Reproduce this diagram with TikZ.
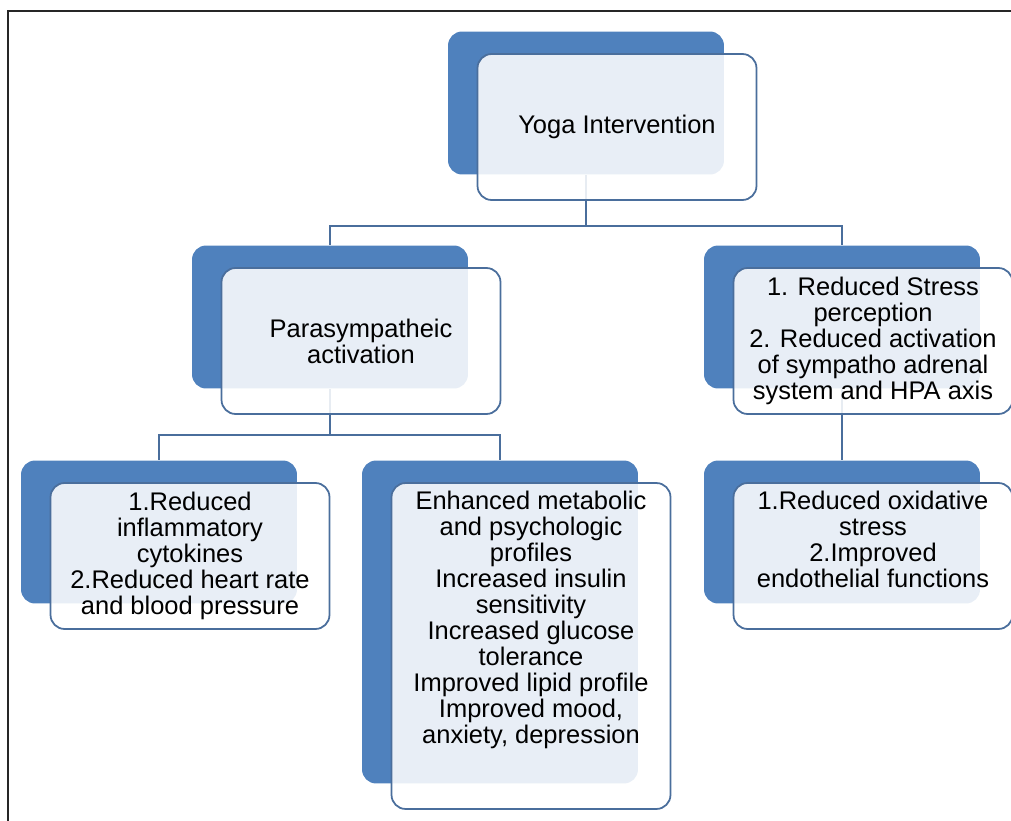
\documentclass[tikz,border=0pt]{standalone}
\usepackage{fontspec}
\setmainfont{Liberation Sans}
\usetikzlibrary{positioning}
\definecolor{backblue}{HTML}{4F81BD}
\definecolor{linkblue}{HTML}{4A6E9C}

\tikzset{
  back/.style = {fill=backblue, rounded corners=8pt, minimum width=5.52cm, minimum height=2.86cm, inner sep=0pt},
  front/.style = {draw=linkblue, line width=1pt, fill=white, fill opacity=0.87, text opacity=1,
                  rounded corners=8pt, minimum width=5.58cm, minimum height=2.92cm, inner sep=2pt,
                  align=center, font=\fontsize{14.5}{14.8}\selectfont},
  conn/.style = {draw=linkblue, line width=1.3pt}
}

\begin{document}
\begin{tikzpicture}[x=0.02cm, y=-0.02cm]
  \useasboundingbox (0,0) rectangle (1011,821);
  \draw[line width=1.2pt, black!85] (8,821) -- (8,11) -- (1011,11);

  % blue back boxes
  \node[back] (yogab) at (586,103) {};
  \node[back] (parab) at (330,317) {};
  \node[back] (stressb) at (842,317) {};
  \node[back] (cytob) at (159,532) {};
  \node[back, minimum height=6.46cm] (metab) at (500,622) {};
  \node[back] (oxib) at (842,532) {};

  % connectors
  \draw[conn] (yogab.south) -- ++(0,51) -| (parab.north);
  \draw[conn] (yogab.south) -- ++(0,51) -| (stressb.north);
  \draw[conn] (parab.south) -- ++(0,46) -| (cytob.north);
  \draw[conn] (parab.south) -- ++(0,46) -| (metab.north);
  \draw[conn] (stressb.south) -- (oxib.north);

  % light front boxes
  \node[front] (yoga) at ([shift={(31,24)}]yogab) {Yoga Intervention};
  \node[front] (para) at ([shift={(31,24)}]parab) {Parasympatheic\\activation};
  \node[front] (stress) at ([shift={(31,24)}]stressb) {1. Reduced Stress\\perception\\2. Reduced activation\\of sympatho adrenal\\system and HPA axis};
  \node[front] (cyto) at ([shift={(31,24)}]cytob) {1.Reduced\\inflammatory\\cytokines\\2.Reduced heart rate\\and blood pressure};
  \node[front, minimum height=6.52cm, text depth=1.15cm] (meta) at ([shift={(31,24)}]metab) {Enhanced metabolic\\and psychologic\\profiles\\Increased insulin\\sensitivity\\Increased glucose\\tolerance\\Improved lipid profile\\Improved mood,\\anxiety, depression};
  \node[front, text depth=0.65cm] (oxi) at ([shift={(31,24)}]oxib) {1.Reduced oxidative\\stress\\2.Improved\\endothelial functions};
\end{tikzpicture}
\end{document}
